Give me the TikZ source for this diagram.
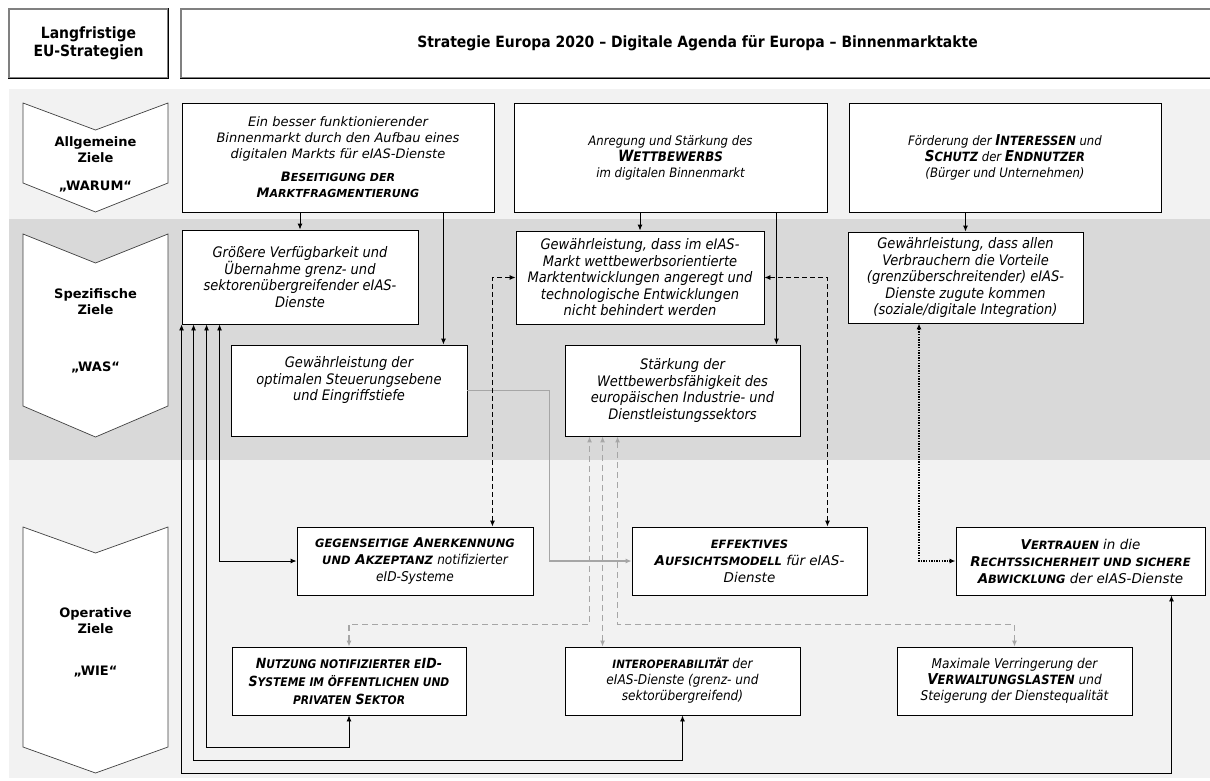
\documentclass[tikz,border=0pt]{standalone}
\usepackage{fontspec}
\setmainfont{DejaVu Sans}
\newfontfamily\tahfont{DejaVu Sans Condensed}
\usepackage{xcolor}
\usepackage{tikz}
\usetikzlibrary{arrows.meta,calc}

\makeatletter
\newcommand\smc[1]{{\fontsize{\fpeval{0.85*\f@size}}{\f@baselineskip}\selectfont #1}}
\makeatother

\definecolor{bandLight}{HTML}{F2F2F2}
\definecolor{bandDark}{HTML}{D9D9D9}
\definecolor{greyLine}{HTML}{A6A6A6}

\tikzstyle{tsBox} = [
    rectangle,
    draw=black,
    fill=white,
    line width=0.9pt,
    inner sep=1pt,
    align=center]
\tikzstyle{tsVerd} = [tsBox, font=\itshape\fontsize{13}{16}\selectfont]
\tikzstyle{tsOp} = [tsBox, font=\itshape\fontsize{13.5}{17}\selectfont]
\tikzstyle{tsTahSmall} = [tsBox, font=\tahfont\itshape\fontsize{13}{16}\selectfont]
\tikzstyle{tsTah} = [tsBox, font=\tahfont\itshape\fontsize{14.5}{16.5}\selectfont]
\tikzstyle{tsHead} = [
    rectangle,
    fill=white,
    draw=gray,
    line width=1.2pt,
    align=center,
    font=\tahfont\bfseries\fontsize{15.5}{18}\selectfont]
\tikzstyle{tsChevText} = [align=center, font=\bfseries\fontsize{13}{16}\selectfont]
\tikzstyle{tsChevron} = [draw=black!75, fill=white, line width=0.7pt]
\tikzstyle{tsLine} = [line width=0.9pt, >={Latex[length=6pt,width=5pt]}]
\tikzstyle{tsDash} = [tsLine, dash pattern=on 5pt off 3pt]
\tikzstyle{tsDot} = [tsLine, line width=1.3pt, dash pattern=on 1.3pt off 1.3pt]
\tikzstyle{tsGrey} = [tsLine, greyLine, line width=1.1pt]
\tikzstyle{tsGreyDash} = [tsGrey, dash pattern=on 6pt off 4pt]

\begin{document}
\begin{tikzpicture}[x=1pt, y=-1pt]
        \useasboundingbox (0,0) rectangle (1210,780);

        % bands
        \fill[bandLight] (9,89) rectangle (1210,219);
        \fill[bandDark] (9,219) rectangle (1210,460);
        \fill[bandLight] (9,460) rectangle (1210,778);

        % header
        \node[tsHead, minimum width=159, minimum height=69] (langfr) at (88.5,43.5) {Langfristige\\EU-Strategien};
        \node[tsHead, minimum width=1033, minimum height=69] (strat) at (697.5,43.5) {Strategie Europa 2020 – Digitale Agenda für Europa – Binnenmarktakte};
        \draw[line width=1.2pt] (langfr.south west) -- (langfr.south east) -- (langfr.north east);
        \draw[line width=1.2pt] (strat.south west) -- (strat.south east);

        % chevrons
        \draw[tsChevron] (23,103) -- (95.5,130) -- (168,103) -- (168,183) -- (95.5,212) -- (23,183) -- cycle;
        \draw[tsChevron] (23,234) -- (95.5,263) -- (168,234) -- (168,406) -- (95.5,437) -- (23,406) -- cycle;
        \draw[tsChevron] (23,527) -- (95.5,553) -- (168,527) -- (168,747) -- (95.5,773) -- (23,747) -- cycle;

        \node[tsChevText] (allg) at (95.5,150) {Allgemeine\\Ziele};
        \node[tsChevText] (warum) at (95.5,187) {„WARUM“};
        \node[tsChevText] (spez) at (95.5,301.5) {Spezifische\\Ziele};
        \node[tsChevText] (was) at (95.5,367) {„WAS“};
        \node[tsChevText] (oper) at (95.5,620.5) {Operative\\Ziele};
        \node[tsChevText] (wie) at (95.5,672) {„WIE“};

        % general goals
        \node[tsVerd, minimum width=312, minimum height=109] (binnen) at (338,157.5)
            {Ein besser funktionierender\\Binnenmarkt durch den Aufbau eines\\digitalen Markts für eIAS-Dienste\\[7pt]\textbf{B\smc{ESEITIGUNG DER}}\\\textbf{M\smc{ARKTFRAGMENTIERUNG}}};
        \node[tsTahSmall, minimum width=313, minimum height=109] (wettbew) at (670.5,157.5)
            {Anregung und Stärkung des\\{\fontsize{15.5}{17}\selectfont\bfseries W\smc{ETTBEWERBS}}\\im digitalen Binnenmarkt};
        \node[tsTahSmall, minimum width=312, minimum height=109] (endnutz) at (1005,157.5)
            {Förderung der {\fontsize{15}{17}\selectfont\bfseries I\smc{NTERESSEN}} und\\{\fontsize{15}{17}\selectfont\bfseries S\smc{CHUTZ}} der {\fontsize{15}{17}\selectfont\bfseries E\smc{NDNUTZER}}\\(Bürger und Unternehmen)};

        % specific goals
        \node[tsTah, minimum width=236, minimum height=94] (verfueg) at (300,277)
            {Größere Verfügbarkeit und\\Übernahme grenz- und\\sektorenübergreifender eIAS-\\Dienste};
        \node[tsTah, minimum width=248, minimum height=93] (marktentw) at (640,277.5)
            {Gewährleistung, dass im eIAS-\\Markt wettbewerbsorientierte\\Marktentwicklungen angeregt und\\technologische Entwicklungen\\nicht behindert werden};
        \node[tsTah, minimum width=235, minimum height=91] (verbraucher) at (965.5,277.5)
            {Gewährleistung, dass allen\\Verbrauchern die Vorteile\\(grenzüberschreitender) eIAS-\\Dienste zugute kommen\\(soziale/digitale Integration)};
        \node[tsTah, minimum width=236, minimum height=91] (steuerung) at (349,390.5)
            {Gewährleistung der\\optimalen Steuerungsebene\\und Eingriffstiefe\\[7pt]\mbox{}};
        \node[tsTah, minimum width=235, minimum height=91] (staerkung) at (682.5,390.5)
            {Stärkung der\\Wettbewerbsfähigkeit des\\europäischen Industrie- und\\Dienstleistungssektors};

        % operative goals
        \node[tsOp, minimum width=236, minimum height=68] (anerk) at (415,561)
            {\textbf{\smc{GEGENSEITIGE} A\smc{NERKENNUNG}}\\\textbf{\smc{UND} A\smc{KZEPTANZ}} {\tahfont notifizierter}\\{\tahfont eID-Systeme}};
        \node[tsOp, minimum width=235, minimum height=68] (aufsicht) at (749.5,561)
            {\textbf{\smc{EFFEKTIVES}}\\\textbf{A\smc{UFSICHTSMODELL}} für eIAS-\\Dienste};
        \node[tsOp, minimum width=249, minimum height=68] (vertrauen) at (1080.5,561)
            {\textbf{V\smc{ERTRAUEN}} in die\\\textbf{R\smc{ECHTSSICHERHEIT UND SICHERE}}\\\textbf{A\smc{BWICKLUNG}} der eIAS-Dienste};
        \node[tsBox, font=\tahfont\bfseries\itshape\fontsize{14}{18}\selectfont, minimum width=234, minimum height=68] (nutzung) at (349,681)
            {N\smc{UTZUNG NOTIFIZIERTER E}ID-\\S\smc{YSTEME IM ÖFFENTLICHEN UND}\\\smc{PRIVATEN} S\smc{EKTOR}};
        \node[tsBox, font=\tahfont\itshape\fontsize{13.5}{16}\selectfont, minimum width=235, minimum height=68] (interop) at (682.5,681)
            {\textbf{\smc{INTEROPERABILITÄT}} der\\eIAS-Dienste (grenz- und\\sektorübergreifend)};
        \node[tsBox, font=\tahfont\itshape\fontsize{13.5}{16}\selectfont, minimum width=235, minimum height=68] (verwaltung) at (1014.5,681)
            {Maximale Verringerung der\\{\fontsize{15}{17}\selectfont\bfseries V\smc{ERWALTUNGSLASTEN}} und\\Steigerung der Dienstequalität};

        % general -> specific
        \draw[tsLine,->] (verfueg.north |- binnen.south) -- (verfueg.north);
        \draw[tsLine,->] ([xshift=-24]steuerung.north east |- binnen.south) -- ([xshift=-24]steuerung.north east);
        \draw[tsLine,->] (marktentw.north |- wettbew.south) -- (marktentw.north);
        \draw[tsLine,->] ([xshift=-24]staerkung.north east |- wettbew.south) -- ([xshift=-24]staerkung.north east);
        \draw[tsLine,->] (verbraucher.north |- endnutz.south) -- (verbraucher.north);

        % specific <-> operative
        \draw[tsGrey,->] (steuerung.east) -- ++(82,0) |- (aufsicht.west);
        \draw[tsDash,<->] (marktentw.west) -| ([xshift=-41]anerk.north east);
        \draw[tsDash,<->] (marktentw.east) -| ([xshift=-40]aufsicht.north east);
        \draw[tsDot,<->] ([xshift=-46.5]verbraucher.south) |- (vertrauen.west);
        \draw[tsGreyDash,<->] (nutzung.north) -- ++(0,-22) -| ([xshift=25]staerkung.south west);
        \draw[tsGreyDash,<->] ([xshift=38]interop.north west) -- ([xshift=38]staerkung.south west);
        \draw[tsGreyDash,<->] (verwaltung.north) -- ++(0,-22) -| ([xshift=53]staerkung.south west);
        \draw[tsLine,<->] ([xshift=38]verfueg.south west) |- (anerk.west);
        \draw[tsLine,<->] ([xshift=25]verfueg.south west) -- ++(0,423) -| (nutzung.south);
        \draw[tsLine,<->] ([xshift=12]verfueg.south west) -- ++(0,436) -| (interop.south);
        \draw[tsLine,<->] (verfueg.south west) -- ++(0,449) -| ([xshift=-34]vertrauen.south east);

\end{tikzpicture}
\end{document}
